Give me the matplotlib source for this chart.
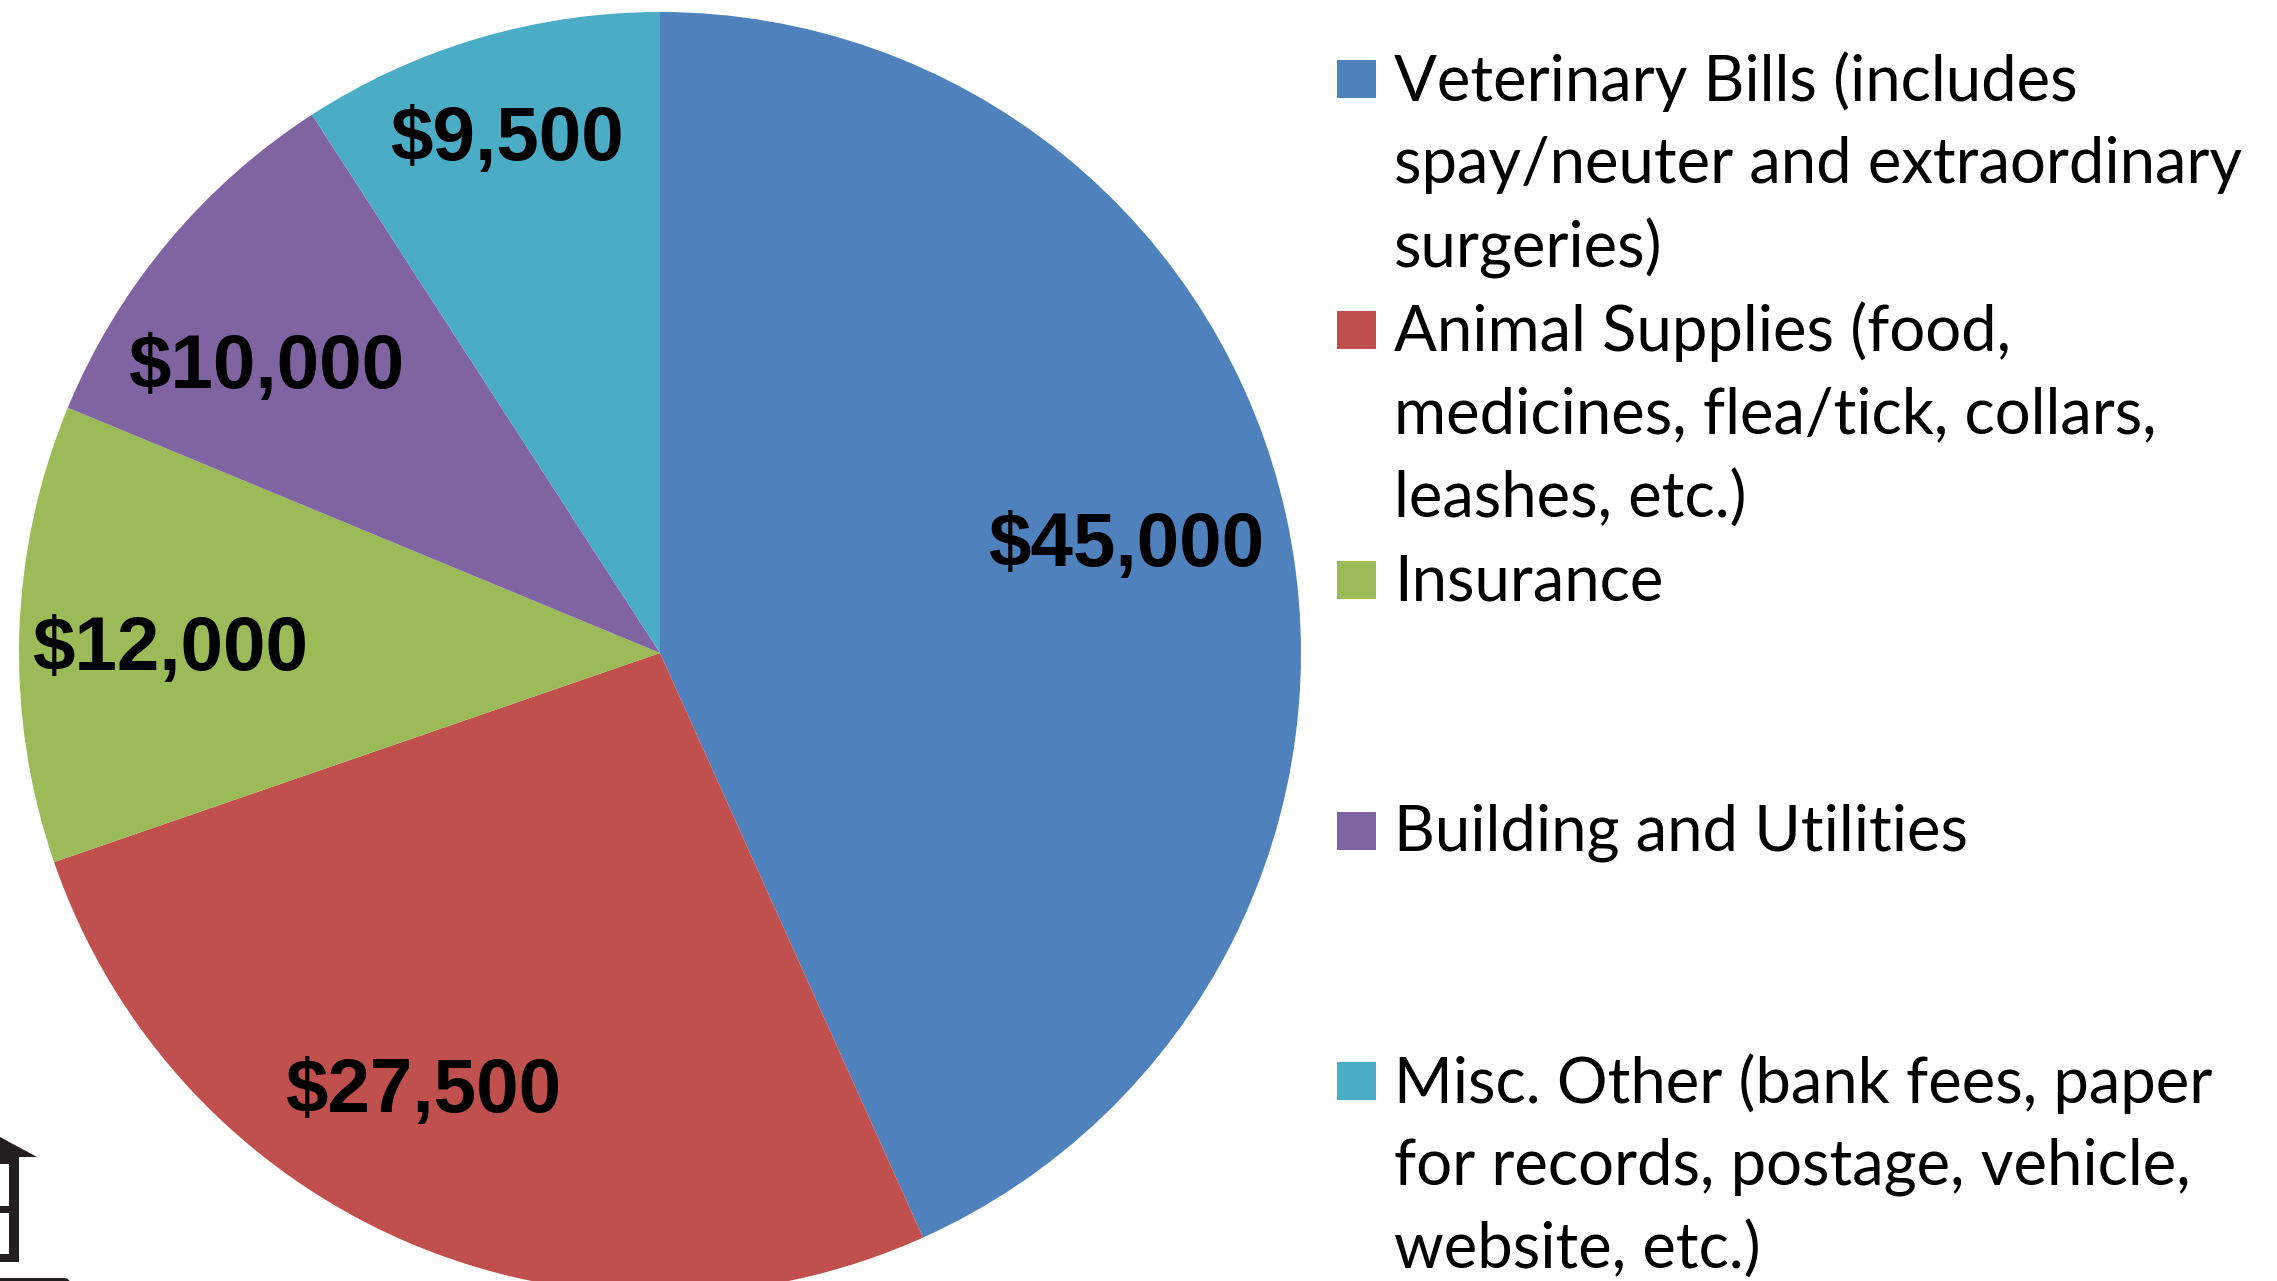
import matplotlib
matplotlib.use('Agg')
import matplotlib.pyplot as plt
from matplotlib.patches import Polygon, Rectangle, FancyBboxPatch

W, H = 2277, 1281

values = [45000, 27500, 12000, 10000, 9500]
value_labels = ['$45,000', '$27,500', '$12,000', '$10,000', '$9,500']
colors = ['#4F81BD', '#C0504D', '#9BBB59', '#8064A2', '#4BACC6']
legend_lines = [
    ['Veterinary Bills (includes', 'spay/neuter and extraordinary', 'surgeries)'],
    ['Animal Supplies (food,', 'medicines, flea/tick, collars,', 'leashes, etc.)'],
    ['Insurance'],
    ['Building and Utilities'],
    ['Misc. Other (bank fees, paper', 'for records, postage, vehicle,', 'website, etc.)'],
]
# label centres, in reference pixels
label_xy = [(1126, 546), (423, 1092), (170, 650), (266, 368), (507, 140)]

CX, CY, R = 660, 653, 641
LEG_Y0 = 79        # first legend line centre
LEG_STEP = 250.5   # one entry
LINE_STEP = 83.3   # one text line
SWATCH = 38


def py(y):
    return H - y


fig = plt.figure(figsize=(W / 100, H / 100), dpi=100, facecolor='white')
ax = fig.add_axes([0, 0, 1, 1])

ax.pie(values, colors=colors, startangle=90, counterclock=False,
       center=(CX, py(CY)), radius=R, wedgeprops={'linewidth': 0})
ax.set_xlim(0, W)
ax.set_ylim(0, H)
ax.set_aspect('equal')
ax.axis('off')

for (x, y), lab in zip(label_xy, value_labels):
    ax.text(x, py(y), lab, ha='center', va='center', fontsize=55,
            fontweight='bold', family='Liberation Sans', color='black')

for i, lines in enumerate(legend_lines):
    y0 = LEG_Y0 + i * LEG_STEP
    ax.add_patch(Rectangle((1337, py(y0 + SWATCH / 2)), SWATCH + 1, SWATCH,
                           facecolor=colors[i], edgecolor='none'))
    for j, line in enumerate(lines):
        ax.text(1394, py(y0 + j * LINE_STEP - 3), line, ha='left', va='center_baseline',
                fontsize=45.6, family='Lato', color='black')

# bit of the logo left at the bottom corner
dark = '#231F20'
ax.add_patch(Polygon([(0, py(1137)), (37, py(1157)), (0, py(1157))], facecolor=dark, edgecolor='none'))
ax.add_patch(Rectangle((0, py(1164)), 19, 7, facecolor=dark, edgecolor='none'))
ax.add_patch(Rectangle((9, py(1262)), 10, 98, facecolor=dark, edgecolor='none'))
ax.add_patch(Rectangle((0, py(1213)), 9, 7, facecolor=dark, edgecolor='none'))
ax.add_patch(Rectangle((0, py(1262)), 19, 8, facecolor=dark, edgecolor='none'))
ax.add_patch(FancyBboxPatch((-20, py(1290)), 90, 12, boxstyle='round,pad=0,rounding_size=6',
                            facecolor=dark, edgecolor='none'))

fig.savefig('out.png', dpi=100, facecolor='white')
plt.close(fig)
